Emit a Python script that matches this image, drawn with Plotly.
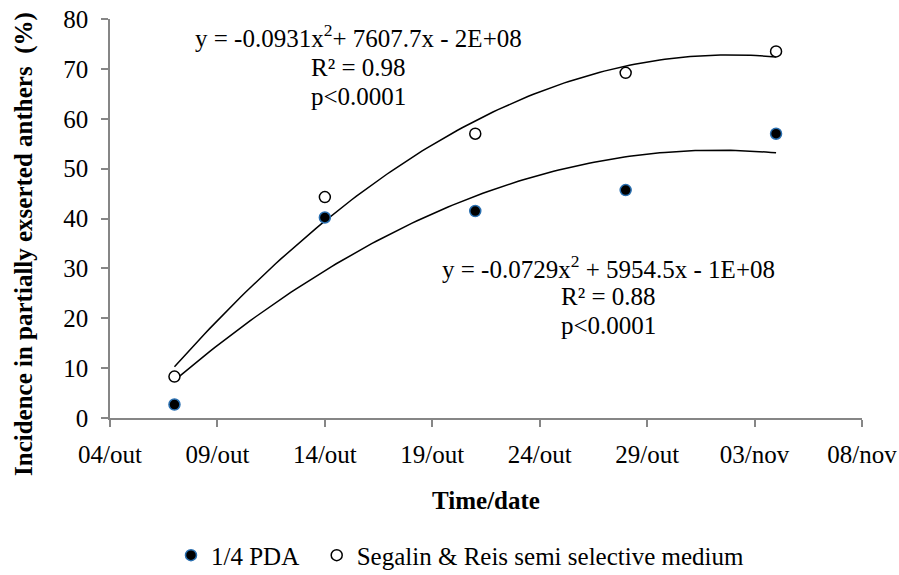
import numpy as np
import pandas as pd
import plotly.graph_objects as go

dates = ["2023-10-07", "2023-10-14", "2023-10-21", "2023-10-28", "2023-11-04"]
pda = [2.7, 40.2, 41.5, 45.7, 57.0]
segalin = [8.3, 44.3, 57.0, 69.2, 73.5]
tick_dates = ["2023-10-04", "2023-10-09", "2023-10-14", "2023-10-19", "2023-10-24",
              "2023-10-29", "2023-11-03", "2023-11-08"]
tick_labels = ["04/out", "09/out", "14/out", "19/out", "24/out", "29/out", "03/nov", "08/nov"]
eq_seg_lines = ["y = -0.0931x<sup>2</sup>+ 7607.7x - 2E+08", "R² = 0.98", "p<0.0001"]
eq_pda_lines = ["y = -0.0729x<sup>2</sup> + 5954.5x - 1E+08", "R² = 0.88", "p<0.0001"]

FONT = "Liberation Serif, Times New Roman, serif"
FS = 25

d = pd.to_datetime(dates)
days = np.array((d - d[0]).days, dtype=float)
dense = np.linspace(days.min(), days.max(), 120)
dense_dates = d[0] + pd.to_timedelta(dense, unit="D")

def fit(y):
    c = np.polyfit(days, np.array(y), 2)
    return np.polyval(c, dense)

fig = go.Figure()
fig.add_trace(go.Scatter(x=dense_dates, y=fit(segalin), mode="lines",
                         line=dict(color="black", width=1.5), showlegend=False, hoverinfo="skip"))
fig.add_trace(go.Scatter(x=dense_dates, y=fit(pda), mode="lines",
                         line=dict(color="black", width=1.5), showlegend=False, hoverinfo="skip"))
fig.add_trace(go.Scatter(x=d, y=pda, mode="markers", name="1/4 PDA\u00a0\u00a0",
                         marker=dict(symbol="circle", size=11, color="black",
                                     line=dict(color="#2a6fb0", width=1.5))))
fig.add_trace(go.Scatter(x=d, y=segalin, mode="markers", name="Segalin & Reis semi selective medium",
                         marker=dict(symbol="circle", size=11, color="white",
                                     line=dict(color="black", width=1.5))))

axis_common = dict(showgrid=False, zeroline=False, showline=True, linecolor="#868686",
                   linewidth=1.5, ticks="outside", tickcolor="#868686", ticklen=7, tickwidth=1.5,
                   tickfont=dict(family=FONT, size=FS, color="black"), automargin=False)

fig.update_xaxes(**axis_common, type="date",
                 range=[pd.Timestamp(tick_dates[0]), pd.Timestamp(tick_dates[-1])],
                 tickvals=tick_dates, ticktext=tick_labels, ticklabelstandoff=6,
                 title=dict(text="<b>Time/date</b>", font=dict(family=FONT, size=FS, color="black"),
                            standoff=25))
fig.update_yaxes(**axis_common, range=[0, 80], tickvals=list(range(0, 81, 10)),
                 ticklabelstandoff=8)

# y-axis title (offset downward like the reference)
fig.add_annotation(x=-0.1144, y=0.436, xref="paper", yref="paper",
                   text="<b>Incidence in partially exserted anthers  (%)</b>", textangle=-90,
                   showarrow=False, xanchor="center", yanchor="middle",
                   font=dict(family=FONT, size=FS, color="black"))

seg_y = [0.957, 0.879, 0.807]
pda_y = [0.379, 0.305, 0.231]
for txt, yy in zip(eq_seg_lines, seg_y):
    fig.add_annotation(x=0.33, y=yy, xref="paper", yref="paper", text=txt, showarrow=False,
                       xanchor="center", yanchor="middle",
                       font=dict(family=FONT, size=FS, color="black"))
for txt, yy in zip(eq_pda_lines, pda_y):
    fig.add_annotation(x=0.663, y=yy, xref="paper", yref="paper", text=txt, showarrow=False,
                       xanchor="center", yanchor="middle",
                       font=dict(family=FONT, size=FS, color="black"))

fig.update_layout(
    width=899, height=575, paper_bgcolor="white", plot_bgcolor="white",
    margin=dict(l=110, r=37, t=19, b=157, autoexpand=False),
    legend=dict(orientation="h", x=0.1902, xanchor="left", xref="container",
                y=0.034, yanchor="middle", yref="container",
                font=dict(family=FONT, size=FS, color="black"), itemwidth=30),
    font=dict(family=FONT, color="black"),
)

fig.write_html("out.html")
